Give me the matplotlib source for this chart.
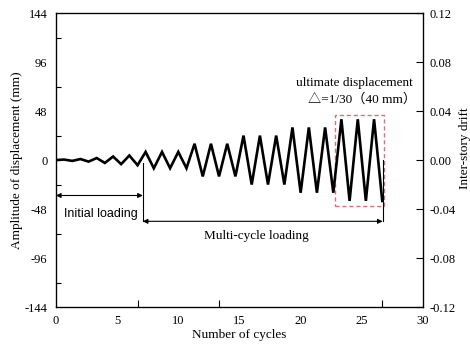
import matplotlib
matplotlib.use('Agg')
import matplotlib.pyplot as plt
from matplotlib.patches import Rectangle

# ---- data ----
cycle_pos = [0.0, 0.67, 1.33, 2.0, 2.67, 3.33, 4.0, 4.67, 5.33, 6.0, 6.67,
             7.33, 8.0, 8.67, 9.33, 10.0, 10.67,
             11.33, 12.0, 12.67, 13.33, 14.0, 14.67,
             15.33, 16.0, 16.67, 17.33, 18.0, 18.67,
             19.33, 20.0, 20.67, 21.33, 22.0, 22.67,
             23.33, 24.0, 24.67, 25.33, 26.0, 26.67]
displacement = [0, 0.5, -0.8, 1.0, -1.5, 2.0, -2.8, 3.5, -4.0, 4.5, -5.0,
                8, -8, 8, -8, 8, -8,
                16, -16, 16, -16, 16, -16,
                24, -24, 24, -24, 24, -24,
                32, -32, 32, -32, 32, -32,
                40, -40, 40, -40, 40, -40]

x_ticks = [0, 5, 10, 15, 20, 25, 30]
x_tickmarks = [6.67, 13.33, 20.0, 26.67]
y_ticks = [-144, -96, -48, 0, 48, 96, 144]
y_tickmarks = [-120, -72, -24, 24, 72, 120]
drift_ticks = [-0.12, -0.08, -0.04, 0.00, 0.04, 0.08, 0.12]
drift_labels = ['-0.12', '-0.08', '-0.04', '0.00', '0.04', '0.08', '0.12']

initial_span = [0.0, 7.1]
multi_span = [7.1, 26.7]
ultimate_box = [22.8, -45, 4.0, 89]   # x0, y0, width, height

serif = ['Liberation Serif', 'DejaVu Serif']
plt.rcParams['font.family'] = serif

fig = plt.figure(figsize=(4.7, 3.45), dpi=100)
ax = fig.add_axes([0.119, 0.110, 0.781, 0.852])

ax.plot(cycle_pos, displacement, color='black', lw=1.9, solid_joinstyle='miter')

ax.set_xlim(0, 30)
ax.set_ylim(-144, 144)

ax.set_xticks(x_ticks)
ax.set_xticklabels([str(t) for t in x_ticks], fontsize=9)
ax.set_xticks(x_tickmarks, minor=True)
ax.tick_params(axis='x', which='major', length=0, pad=6)
ax.tick_params(axis='x', which='minor', direction='in', length=5, width=0.8)

ax.set_yticks(y_ticks)
ax.set_yticklabels([str(t) for t in y_ticks], fontsize=9)
ax.set_yticks(y_tickmarks, minor=True)
ax.tick_params(axis='y', which='major', length=0, pad=6)
ax.tick_params(axis='y', which='minor', direction='in', length=3.5, width=0.8)

for s in ax.spines.values():
    s.set_linewidth(0.9)

ax2 = ax.twinx()
ax2.set_ylim(-0.12, 0.12)
ax2.set_yticks(drift_ticks)
ax2.set_yticklabels(drift_labels, fontsize=9)
ax2.tick_params(axis='y', direction='in', length=5, width=0.8, pad=5)
ax2.yaxis.set_minor_locator(matplotlib.ticker.NullLocator())

ax.set_xlabel('Number of cycles', fontsize=9.5)
ax.xaxis.set_label_coords(0.5, -0.075)
ax.set_ylabel('Amplitude of displacement (mm)', fontsize=9.5)
ax.yaxis.set_label_coords(-0.09, 0.5)
ax2.set_ylabel('Inter-story drift', fontsize=9.5)
ax2.yaxis.set_label_coords(1.097, 0.54)

# brackets and arrows
arrow_kw = dict(arrowstyle='<|-|>', color='black', lw=0.8, mutation_scale=7,
                shrinkA=0, shrinkB=0)
ax.annotate('', xy=(initial_span[0], -34.7), xytext=(initial_span[1], -34.7),
            arrowprops=arrow_kw)
ax.annotate('', xy=(multi_span[0], -60), xytext=(multi_span[1], -60),
            arrowprops=arrow_kw)
ax.plot([initial_span[1], initial_span[1]], [-3, -60], color='black', lw=0.8)
ax.plot([multi_span[1], multi_span[1]], [0, -60], color='black', lw=0.8)

ax.text(3.7, -53, 'Initial loading', fontsize=9, ha='center', va='center',
        family=['Liberation Sans', 'DejaVu Sans'])
ax.text(16.4, -74.7, 'Multi-cycle loading', fontsize=9.5, ha='center', va='center')

ax.add_patch(Rectangle((ultimate_box[0], ultimate_box[1]), ultimate_box[2], ultimate_box[3],
                       fill=False, edgecolor='#d9707a', lw=1.0, ls=(0, (3, 2))))
ax.text(24.4, 75.7, 'ultimate displacement', fontsize=9.5, ha='center', va='center')
ax.text(25.0, 59.8, '△=1/30（40 mm）', fontsize=9.5, ha='center', va='center',
        family=['Liberation Serif', 'Noto Sans CJK SC', 'DejaVu Sans'])

fig.savefig('out.png', dpi=100)
